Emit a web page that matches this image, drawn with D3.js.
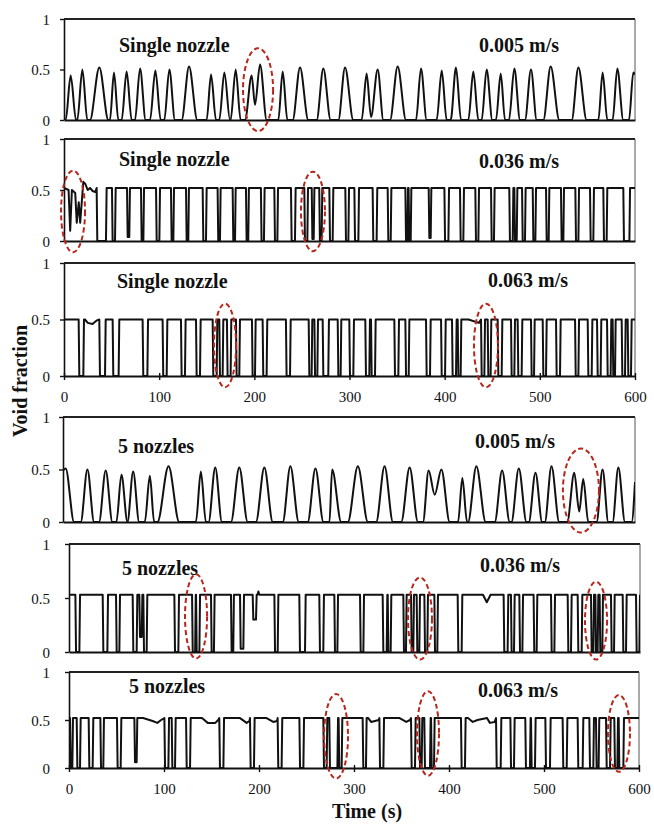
<!DOCTYPE html>
<html><head><meta charset="utf-8">
<script src="https://cdn.jsdelivr.net/npm/d3@7"></script>
<style>body{margin:0;background:#fff}svg{display:block}</style>
</head><body>
<svg id="c" width="654" height="827"></svg>
<script>
// ---------------- DATA ----------------
const timeTicks = [0, 100, 200, 300, 400, 500, 600];
const voidTicks = [0, 0.5, 1];
const nozzleLabels = ["Single nozzle", "Single nozzle", "Single nozzle", "5 nozzles", "5 nozzles", "5 nozzles"];
const velocityLabels = ["0.005 m/s", "0.036 m/s", "0.063 m/s", "0.005 m/s", "0.036 m/s", "0.063 m/s"];

// Panel 1 (single nozzle, 0.005 m/s): [time s, void fraction]
const single005 = [[0,0],[1.8,0],[7.0,.44],[12.6,0],[14.0,0],[19.3,.50],[24.5,0],[27.3,0],[37.1,.52],[46.6,0],[48.3,0],[52.5,.47],[57.1,0],[60.6,0],[65.8,.48],[71.1,0],[74.6,0],[79.9,.51],[85.8,0],[90.4,0],[96.0,.49],[101.6,0],[105.4,0],[110.7,.50],[116.6,0],[123.6,0],[131.4,.53],[140.1,0],[149.9,0],[154.5,.45],[159.7,0],[163.2,0],[168.5,.47],[174.4,0],[175.1,0],[180.4,.50],[185.6,0],[190.2,0],[197.2,.44],[200.7,.15],[206.0,.55],[213.0,0],[225.2,0],[229.8,.48],[234.7,0],[240.3,0],[248.0,.52],[256.7,0],[265.5,0],[272.5,.51],[280.2,0],[288.3,0],[295.3,.52],[304.0,0],[312.8,0],[318.0,.46],[322.6,.03],[329.6,.50],[335.6,0],[342.6,0],[350.6,.53],[359.4,0],[369.9,0],[375.1,.51],[381.1,0],[391.6,0],[396.9,.49],[402.1,0],[406.3,0],[411.9,.52],[417.2,0],[424.9,0],[430.1,.48],[435.4,0],[438.9,0],[444.1,.50],[450.1,0],[453.9,0],[458.9,.46],[463.4,0],[467.6,0],[473.2,.51],[479.2,0],[484.4,0],[490.7,.50],[496.7,0],[503.7,0],[511.4,.53],[520.5,0],[533.5,0],[540.5,.52],[549.2,0],[561.5,0],[566.0,.47],[570.9,0],[576.5,0],[581.4,.51],[587.7,0],[593.7,0],[598.2,.47],[600,.45]];

// Panel 4 (5 nozzles, 0.005 m/s): [time s, void fraction]
const multi005 = [[0,.49],[2.8,.51],[11.6,0],[18.6,0],[25.6,.50],[32.6,0],[37.8,0],[44.8,.49],[51.8,0],[56.0,0],[61.3,.45],[67.6,0],[73.6,.48],[79.9,0],[85.8,0],[91.1,.44],[95.6,0],[99.1,0],[110.7,.53],[121.9,0],[139.4,0],[144.6,.48],[149.9,0],[152.7,0],[159.7,.52],[166.7,0],[176.2,0],[184.9,.52],[193.7,0],[202.4,0],[211.2,.52],[220.0,0],[230.5,0],[238.5,.53],[247.3,0],[256.7,0],[264.8,.51],[273.2,0],[279.5,0],[282.3,.50],[291.8,0],[298.8,0],[309.3,.53],[319.8,0],[328.5,0],[337.3,.53],[346.1,0],[354.8,0],[363.6,.52],[372.3,0],[377.6,0],[383.5,.49],[389.9,.26],[396.9,.50],[405.6,0],[414.4,0],[418.9,.42],[423.8,0],[424.9,0],[433.6,.53],[443.4,0],[452.9,0],[460.6,.49],[468.6,0],[470.4,0],[478.1,.51],[486.2,0],[488.6,0],[495.6,.47],[502.6,0],[505.4,0],[512.4,.53],[520.5,0],[528.9,0],[536.3,.47],[541.5,.10],[545.7,.41],[551.0,0],[559.7,0],[566.0,.50],[572.0,0],[576.5,0],[582.5,.52],[589.5,0],[596.5,0],[600,.38]];

// Square-wave panels: plateau level, dips [start s, end s, lowest value], extra points [time, value]
const single036Level = 0.52;
const single036Dips = [[35.0,44.1,0],[51.1,53.6,0],[66.9,68.6,.04],[81.6,83.4,0],[97.4,100.2,0],[113.1,114.9,0],[128.9,130.6,0],[146.4,149.2,0],[162.1,163.9,0],[177.9,179.7,0],[191.9,193.6,0],[207.6,210.1,0],[221.7,224.2,0],[239.2,242.7,0],[253.2,255.7,0],[261.0,262.4,.02],[268.9,270.7,0],[279.5,282.3,0],[296.3,298.8,0],[305.8,309.3,0],[325.0,328.5,0],[340.8,343.3,0],[359.4,360.8,0],[362.8,364.3,0],[383.9,385.3,.03],[400.4,403.9,0],[416.8,419.6,0],[432.9,435.4,0],[449.4,451.8,0],[468.6,471.5,0],[473.9,475.7,0],[482.0,484.4,0],[493.2,495.3,0],[507.2,509.3,0],[522.9,524.7,0],[538.0,540.5,0],[553.4,556.2,0],[567.4,570.2,0],[588.4,594.1,0]];
const single036Extra = [[0,.52],[4.8,.50],[6.5,.10],[8.3,.50],[11.8,.47],[13.4,.18],[15.5,.38],[17.0,.18],[20.3,.58],[22.4,.56],[24.9,.50],[27.3,.52],[30.1,.49],[32.9,.48]];

const single063Level = 0.50;
const single063Dips = [[16.1,20.3,0],[37.8,43.1,0],[51.8,57.4,0],[83.3,87.6,0],[104.3,107.9,0],[123.6,127.1,0],[139.4,142.9,0],[156.9,160.4,0],[163.9,166.7,0],[171.9,175.1,0],[181.4,184.2,0],[198.2,200.7,0],[209.4,212.9,0],[233.9,237.5,0],[257.8,260.2,0],[263.8,266.2,0],[272.5,277.7,0],[288.3,290.7,0],[300.5,304.0,0],[317.3,320.8,0],[323.3,326.8,0],[347.8,351.3,0],[359.4,362.2,0],[381.1,384.6,0],[396.9,400.4,0],[408.4,411.9,0],[414.4,416.8,0],[438.9,441.7,0],[445.9,448.3,0],[456.4,459.9,0],[470.4,473.2,0],[477.4,480.9,0],[491.4,493.9,0],[503.7,506.5,0],[517.7,521.2,0],[537.7,540.5,0],[551.0,554.5,0],[560.8,563.9,0],[571.3,574.4,0],[577.2,579.0,0],[586.7,589.5,0],[593.0,595.8,0]];
const single063Extra = [[22,.5],[25,.47],[30,.46],[34,.49],[425,.5],[436,.47]];

const multi036Level = 0.53;
const multi036Dips = [[7.4,10.9,0],[36.1,40.3,0],[50.1,52.9,0],[67.6,71.1,0],[74.6,76.4,.14],[78.8,81.6,0],[111.4,114.9,0],[130.0,132.5,0],[134.2,137.0,0],[149.9,152.3,0],[170.9,172.6,0],[180.4,183.2,.03],[193.7,196.5,.30],[216.5,219.3,0],[242.7,248.0,0],[263.7,267.2,0],[279.5,282.0,0],[306.5,309.3,0],[330.3,333.8,0],[335.6,338.0,0],[352.0,354.1,0],[360.1,361.8,0],[366.0,368.1,0],[374.1,376.5,0],[384.6,387.0,0],[409.1,412.6,0],[457.4,460.9,0],[465.1,467.6,0],[473.9,476.4,0],[488.9,491.4,0],[507.2,510.0,0],[524.7,527.5,0],[535.2,538.7,0],[549.2,551.0,0],[553.8,555.5,0],[558.3,560.4,0],[570.2,572.7,0],[582.5,585.3,0],[596.5,599.3,0]];
const multi036Extra = [[198,.53],[199,.56],[200,.53],[435,.53],[439,.46],[443,.53]];

const multi063Level = 0.52;
const multi063Dips = [[1.8,3.5,0],[8.8,11.6,0],[21.4,24.9,0],[33.7,36.1,0],[51.2,54.4,0],[69.5,71.2,.06],[101.1,104.6,0],[108.8,111.6,0],[123.9,127.4,0],[158.9,162.5,0],[191.2,194.7,0],[220.3,223.8,0],[243.2,246.7,0],[268.4,271.2,0],[274.7,282.5,0],[284.5,287.0,0],[309.8,312.6,0],[327.4,330.9,0],[360.7,364.2,0],[369.5,371.2,0],[374.7,380.0,0],[381.8,384.2,0],[413.3,416.8,0],[450.2,454.4,0],[465.3,468.4,0],[481.0,485.2,0],[487.0,490.5,0],[502.1,506.3,0],[520.3,523.9,0],[536.1,540.7,0],[548.4,551.9,0],[555.4,557.5,0],[566.0,569.5,0],[574.7,577.2,0],[579.3,583.5,0]];
const multi063Extra = [[78,.52],[88,.49],[93,.47],[97,.5],[140,.52],[146,.47],[154,.47],[157,.5],[180,.52],[187,.47],[190,.49],[208,.52],[215,.48],[219,.49],[315,.52],[318,.48],[322,.49],[326,.5],[348,.52],[355,.48],[359,.5],[420,.52],[425,.48],[430,.5],[440,.52],[443,.47],[448,.48]];

// Highlight ellipses: [panel index, centre time s, centre void fraction, half-width s, half-height]
const highlights = [[0,203.9,.30,15.8,.41],[1,9.5,.29,12.6,.40],[1,261.6,.29,12.6,.39],[2,169.2,.27,11.6,.37],[2,443.4,.27,12.6,.37],[3,543.3,.30,18.9,.40],[4,133.5,.33,11.6,.39],[4,368.8,.31,12.6,.38],[4,553.8,.29,11.6,.36],[5,281.1,.33,12.6,.44],[5,377.9,.36,11.6,.44],[5,578.9,.36,11.6,.40]];

// ---------------- BUILD ----------------
function squareSeries(level, dips, extra) {
  const edge = 0.7;
  const pts = [];
  dips.forEach(([a, b, m]) => { pts.push([a - edge, level], [a, m], [b, m], [b + edge, level]); });
  extra.forEach(p => pts.push(p));
  pts.sort((p, q) => p[0] - q[0]);
  if (pts[0][0] > 0) pts.unshift([0, level]);
  if (pts[pts.length - 1][0] < 600) pts.push([600, level]);
  return pts;
}

const panels = [
  {data: single005, curve: d3.curveMonotoneX, box: {l:64, r:635, t:19, b:120}, title:[119,52], vel:[479,52]},
  {data: squareSeries(single036Level, single036Dips, single036Extra), curve: d3.curveLinear, box: {l:64, r:635, t:139, b:241}, title:[119,166], vel:[479,168]},
  {data: squareSeries(single063Level, single063Dips, single063Extra), curve: d3.curveLinear, box: {l:64, r:635, t:263, b:376}, title:[117,288], vel:[488,287], xAxis:true},
  {data: multi005, curve: d3.curveMonotoneX, box: {l:63, r:635, t:417, b:522}, title:[118,453], vel:[475,448]},
  {data: squareSeries(multi036Level, multi036Dips, multi036Extra), curve: d3.curveLinear, box: {l:69, r:640, t:544, b:652}, title:[122,575], vel:[480,572]},
  {data: squareSeries(multi063Level, multi063Dips, multi063Extra), curve: d3.curveLinear, box: {l:69, r:639, t:672, b:768}, title:[129,693], vel:[478,697], xAxis:true}
];

const svg = d3.select("#c");
const serif = "'Liberation Serif','Times New Roman',serif";
const defs = svg.append("defs");

panels.forEach((p, i) => {
  const B = p.box;
  const x = d3.scaleLinear().domain([0, 600]).range([B.l, B.r]);
  const y = d3.scaleLinear().domain([0, 1]).range([B.b, B.t]);
  const g = svg.append("g");

  defs.append("clipPath").attr("id", "clip" + i)
    .append("rect").attr("x", B.l).attr("y", B.t - 2).attr("width", B.r - B.l).attr("height", B.b - B.t + 2);

  // frame: top (thick) and right (thin)
  g.append("line").attr("x1", B.l).attr("x2", B.r).attr("y1", B.t).attr("y2", B.t)
    .attr("stroke", "#222").attr("stroke-width", 2);
  g.append("line").attr("x1", B.r).attr("x2", B.r).attr("y1", B.t).attr("y2", B.b)
    .attr("stroke", "#555").attr("stroke-width", 1);

  // series
  const line = d3.line().x(d => x(d[0])).y(d => y(d[1])).curve(p.curve);
  g.append("path").datum(p.data).attr("d", line)
    .attr("fill", "none").attr("stroke", "#111").attr("stroke-width", 2)
    .attr("stroke-linejoin", "round").attr("clip-path", `url(#clip${i})`);

  // left axis
  const tickLen = 4;
  const ya = d3.axisLeft(y).tickValues(voidTicks).tickFormat(d3.format("")).tickSizeInner(tickLen).tickSizeOuter(0).tickPadding(B.l - 50 - tickLen);
  const yg = g.append("g").attr("transform", `translate(${B.l},0)`).call(ya);
  yg.select(".domain").attr("stroke", "#111").attr("stroke-width", 1.6);
  yg.selectAll(".tick line").attr("stroke", "#111").attr("stroke-width", 1.4);
  yg.selectAll(".tick text").attr("font-family", serif).attr("font-size", 15).attr("fill", "#111").attr("dy", "0.35em");

  // bottom axis
  const xa = d3.axisBottom(x).tickValues(p.xAxis ? timeTicks : []).tickSizeInner(p.xAxis ? 4 : 0).tickSizeOuter(0).tickPadding(8);
  const xg = g.append("g").attr("transform", `translate(0,${B.b})`).call(xa);
  xg.select(".domain").attr("stroke", "#111").attr("stroke-width", 2);
  xg.selectAll(".tick line").attr("stroke", "#111").attr("stroke-width", 1.4).attr("y1", -3);
  xg.selectAll(".tick text").attr("font-family", serif).attr("font-size", 15).attr("fill", "#111")
    .attr("y", 26).attr("dy", 0);

  // labels
  g.append("text").attr("x", p.title[0]).attr("y", p.title[1]).text(nozzleLabels[i])
    .attr("font-family", serif).attr("font-weight", "bold").attr("font-size", 20).attr("fill", "#111");
  g.append("text").attr("x", p.vel[0]).attr("y", p.vel[1]).text(velocityLabels[i])
    .attr("font-family", serif).attr("font-weight", "bold").attr("font-size", 20).attr("fill", "#111");

  // highlight ellipses
  highlights.filter(h => h[0] === i).forEach(h => {
    g.append("ellipse")
      .attr("cx", x(h[1])).attr("cy", y(h[2]))
      .attr("rx", x(h[1] + h[3]) - x(h[1])).attr("ry", y(0) - y(h[4]))
      .attr("fill", "none").attr("stroke", "#b8261c").attr("stroke-width", 2)
      .attr("stroke-dasharray", "5,3");
  });
});

// axis titles
svg.append("text").attr("transform", "translate(27,381) rotate(-90)").attr("text-anchor", "middle")
  .text("Void fraction").attr("font-family", serif).attr("font-weight", "bold").attr("font-size", 20).attr("fill", "#111");
svg.append("text").attr("x", 367).attr("y", 818).attr("text-anchor", "middle")
  .text("Time (s)").attr("font-family", serif).attr("font-weight", "bold").attr("font-size", 20).attr("fill", "#111");
</script>
</body></html>
